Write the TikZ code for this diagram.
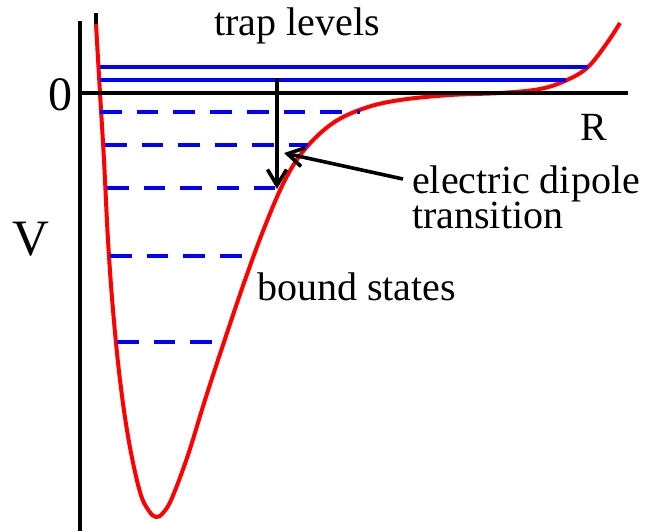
\documentclass[tikz,border=0pt]{standalone}
\usepackage{fontspec}
\setmainfont{Liberation Serif}
\usetikzlibrary{arrows.meta}
\begin{document}
\begin{tikzpicture}[x=1pt,y=-1pt,
  axis/.style={line width=4.6pt,black},
  curve/.style={line width=4pt,red,line join=round},
  level/.style={line width=4pt,blue},
  dlevel/.style={line width=4pt,blue,dash pattern=on 21.7pt off 15pt},
  arr/.style={line width=3.6pt,black,-{Straight Barb[length=16pt,width=19pt,line width=3.6pt]}},
  lbl/.style={inner sep=0pt,anchor=base west,font=\fontsize{40}{35}\selectfont},
  big/.style={inner sep=0pt,anchor=base west,font=\fontsize{48}{50}\selectfont}]
\useasboundingbox (0,0) rectangle (665,531);
% potential curve
\draw[curve] plot[smooth,tension=0.6] coordinates {
 (96,24) (100,93) (104,160) (108,240) (113,310) (120,380) (129,442)
 (140,492) (149,511) (156,517) (163,513) (172,498) (188,455) (205,400)
 (224,342) (245,280) (265,226) (285,180) (305,149) (333,123) (365,108)
 (400,100) (450,95) (500,93) (540,89) (567,80) (588,67) (607,43) (620,23)};
% axes
\coordinate (yt) at (80,21);
\coordinate (o) at (80,93);
\coordinate (yb) at (80,531);
\coordinate (xr) at (628,93);
\draw[axis] (yt) -- (yb);
\draw[axis] (o) -- (xr);
\coordinate (tk1) at (96,13);
\coordinate (tk2) at (96,24);
\draw[line width=3.8pt] (tk1) -- (tk2);
% trap levels
\coordinate (t1a) at (100,67); \coordinate (t1b) at (588,67);
\coordinate (t2a) at (100,80); \coordinate (t2b) at (566,80);
\draw[level] (t1a) -- (t1b);
\draw[level] (t2a) -- (t2b);
% bound states
\coordinate (b1a) at (100,112); \coordinate (b1b) at (360,112);
\coordinate (b2a) at (105,145); \coordinate (b2b) at (308,145);
\coordinate (b3a) at (107,188); \coordinate (b3b) at (275,188);
\coordinate (b4a) at (110,256); \coordinate (b4b) at (243,256);
\coordinate (b5a) at (117,342); \coordinate (b5b) at (212,342);
\draw[dlevel] (b1a) -- (b1b);
\draw[dlevel] (b2a) -- (b2b);
\draw[dlevel] (b3a) -- (b3b);
\draw[dlevel] (b4a) -- (b4b);
\draw[dlevel] (b5a) -- (b5b);
% transition arrow
\coordinate (ta) at (277,78);
\coordinate (tb) at (277,189);
\draw[arr] (ta) -- (tb);
% labels
\node[lbl] (trap) at (214,35) {trap levels};
\node[big] (zero) at (48,110) {0};
\node[lbl] (R) at (580,140) {R};
\node[big,font=\fontsize{51}{50}\selectfont] (V) at (12,255) {V};
\node[lbl] (ed) at (412,193) {electric dipole};
\node[lbl] (tr) at (412,228) {transition};
\node[lbl] (bs) at (257,300) {bound states};
\coordinate (pt) at (284,153);
\coordinate (ps) at (403,179);
\draw[arr] (ps) -- (pt);
\end{tikzpicture}
\end{document}
